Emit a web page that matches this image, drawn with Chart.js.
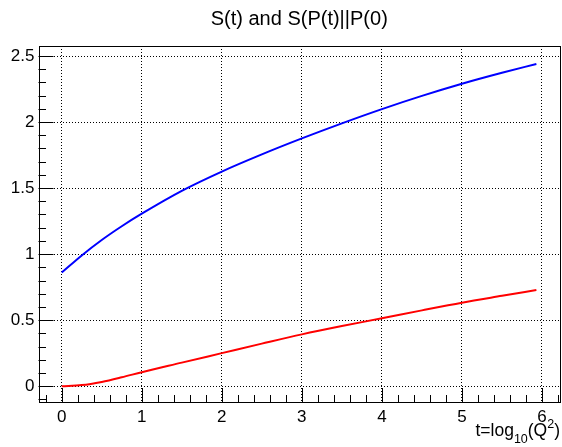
<!DOCTYPE html>
<html>
<head>
<meta charset="utf-8">
<script src="https://cdn.jsdelivr.net/npm/chart.js@4.4.0/dist/chart.umd.min.js"></script>
<style>
  html, body { margin: 0; padding: 0; background: #fff; }
  #wrap { width: 562px; height: 447px; }
</style>
</head>
<body>
<div id="wrap"><canvas id="chart" width="562" height="447"></canvas></div>
<script>
// t = log10(Q^2)
const tValues   = [0, 0.25, 0.5, 0.75, 1, 1.5, 2, 2.5, 3, 3.5, 4, 4.5, 5, 5.5, 5.93];
// S(t)
const sEntropy  = [0.86, 0.99, 1.107, 1.211, 1.306, 1.479, 1.625, 1.755, 1.876, 1.99, 2.098, 2.198, 2.29, 2.373, 2.44];
// S(P(t)||P(0))
const sRelative = [0, 0.008, 0.032, 0.067, 0.106, 0.178, 0.25, 0.322, 0.392, 0.455, 0.514, 0.574, 0.632, 0.684, 0.728];

const xTickValues = [0, 1, 2, 3, 4, 5, 6];
const yTickValues = [0, 0.5, 1, 1.5, 2, 2.5];
const yTickLabels = ["0", "0.5", "1", "1.5", "2", "2.5"];

const FONT = "'Liberation Sans', Arial, Helvetica, sans-serif";

const toPoints = (ys) => tValues.map((t, i) => ({ x: t, y: ys[i] }));

// ROOT-like frame, inner major/minor ticks, and the x axis title
const rootFrame = {
  id: "rootFrame",
  afterDatasetsDraw(chart) {
    const { ctx, chartArea: a, scales: { x, y } } = chart;
    ctx.save();
    ctx.strokeStyle = "#000";
    ctx.lineWidth = 1;

    // x ticks: minor every 0.2, major at integers
    ctx.beginPath();
    for (let k = -1; k <= 31; k++) {
      const v = k * 0.2;
      if (v < x.min || v > x.max) continue;
      const px = Math.round(x.getPixelForValue(v)) + 0.5;
      const len = k % 5 === 0 ? 14 : 7;
      ctx.moveTo(px, a.bottom);
      ctx.lineTo(px, a.bottom - len);
    }
    // y ticks: minor every 0.1, major every 0.5
    for (let k = -1; k <= 25; k++) {
      const v = k * 0.1;
      if (v < y.min || v > y.max) continue;
      const py = Math.round(y.getPixelForValue(v)) + 0.5;
      const len = k % 5 === 0 ? 15 : 7.5;
      ctx.moveTo(a.left, py);
      ctx.lineTo(a.left + len, py);
    }
    ctx.stroke();

    ctx.strokeRect(Math.round(a.left) + 0.5, Math.round(a.top) + 0.5,
                   Math.round(a.right - a.left) - 1, Math.round(a.bottom - a.top));

    // x title: t=log_{10}(Q^{2})
    const parts = [
      { t: "t=log", size: 17.5, dy: 0 },
      { t: "10", size: 12.5, dy: 7 },
      { t: "(Q", size: 17.5, dy: 0 },
      { t: "2", size: 12.5, dy: -8 },
      { t: ")", size: 17.5, dy: 0 }
    ];
    let total = 0;
    parts.forEach(p => { ctx.font = p.size + "px " + FONT; p.w = ctx.measureText(p.t).width; total += p.w; });
    let cx = 560 - total;
    const base = 436;
    ctx.fillStyle = "#000";
    ctx.textBaseline = "alphabetic";
    ctx.textAlign = "left";
    parts.forEach(p => {
      ctx.font = p.size + "px " + FONT;
      ctx.fillText(p.t, cx, base + p.dy);
      cx += p.w;
    });
    ctx.restore();
  }
};

new Chart(document.getElementById("chart"), {
  type: "scatter",
  data: {
    datasets: [
      {
        label: "S(t)",
        data: toPoints(sEntropy),
        showLine: true,
        borderColor: "#0000ff",
        borderWidth: 2,
        pointRadius: 0,
        cubicInterpolationMode: "monotone"
      },
      {
        label: "S(P(t)||P(0))",
        data: toPoints(sRelative),
        showLine: true,
        borderColor: "#ff0000",
        borderWidth: 2,
        pointRadius: 0,
        cubicInterpolationMode: "monotone"
      }
    ]
  },
  options: {
    responsive: false,
    animation: false,
    layout: { padding: { left: 0, right: 2, top: 0, bottom: 0 } },
    plugins: {
      legend: { display: false },
      tooltip: { enabled: false },
      title: {
        display: true,
        text: "S(t) and S(P(t)||P(0)",
        color: "#000",
        fullSize: false,
        font: { family: FONT, size: 20, weight: "normal" },
        padding: { top: 7, bottom: 15 }
      }
    },
    scales: {
      x: {
        type: "linear",
        min: -0.29,
        max: 6.225,
        afterBuildTicks: (s) => { s.ticks = xTickValues.map(v => ({ value: v })); },
        afterFit: (s) => { s.height = 45; },
        ticks: {
          color: "#000",
          font: { family: FONT, size: 17 },
          padding: 5,
          maxRotation: 0,
          callback: (v) => String(v)
        },
        grid: { color: "#000", lineWidth: 1, drawTicks: false },
        border: { display: false, dash: [1, 2] }
      },
      y: {
        type: "linear",
        min: -0.12,
        max: 2.576,
        afterBuildTicks: (s) => { s.ticks = yTickValues.map(v => ({ value: v })); },
        afterFit: (s) => { s.width = 38.5; },
        ticks: {
          color: "#000",
          font: { family: FONT, size: 17 },
          padding: 4,
          callback: (v) => yTickLabels[yTickValues.indexOf(v)]
        },
        grid: { color: "#000", lineWidth: 1, drawTicks: false },
        border: { display: false, dash: [1, 2] }
      }
    }
  },
  plugins: [rootFrame]
});
</script>
</body>
</html>
